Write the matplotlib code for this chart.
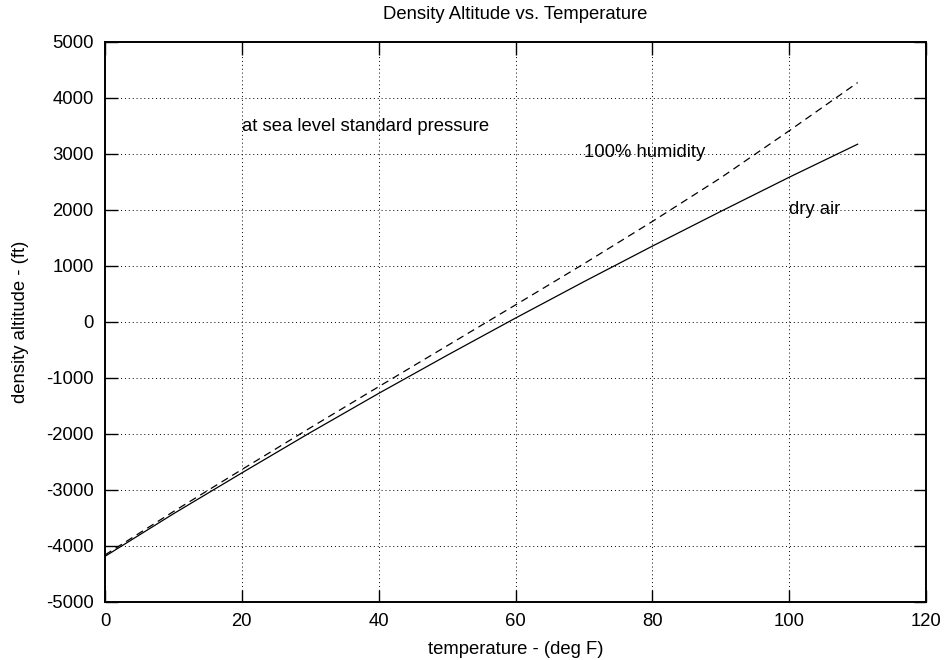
import matplotlib.pyplot as plt

# temperature (deg F) and density altitude (ft)
temp = [0, 10, 20, 30, 40, 50, 60, 70, 80, 90, 100, 110]
dry_air = [-4190, -3430, -2700, -1980, -1280, -600, 65, 715, 1350, 1970, 2580, 3170]
humid_air = [-4165, -3390, -2640, -1895, -1160, -430, 300, 1035, 1790, 2570, 3410, 4270]

plt.rcParams['font.family'] = ['Liberation Sans', 'DejaVu Sans']
plt.rcParams['axes.unicode_minus'] = False

fs = 13.3

fig = plt.figure(figsize=(9.44, 6.6), dpi=100)
ax = fig.add_axes([0.1112, 0.0883, 0.8698, 0.8485])

ax.plot(temp, dry_air, color='black', linewidth=0.9)
ax.plot(temp, humid_air, color='black', linewidth=0.9, linestyle=(0, (6, 4)))

ax.set_xlim(0, 120)
ax.set_ylim(-5000, 5000)
ax.set_xticks(range(0, 121, 20))
ax.set_yticks(range(-5000, 5001, 1000))

ax.grid(True, color='black', linestyle=(0, (1, 3)), linewidth=0.7)
ax.tick_params(direction='in', length=9, width=1, top=True, right=True,
               labelsize=fs, pad=8)
for s in ax.spines.values():
    s.set_linewidth(1.4)

ax.text(20, 3480, 'at sea level standard pressure', fontsize=fs, va='center', ha='left')
ax.text(70, 3030, '100% humidity', fontsize=fs, va='center', ha='left')
ax.text(100, 2000, 'dry air', fontsize=fs, va='center', ha='left')

ax.set_title('Density Altitude vs. Temperature', fontsize=fs, pad=16)
ax.set_xlabel('temperature - (deg F)', fontsize=fs, labelpad=8)
ax.set_ylabel('density altitude - (ft)', fontsize=fs, labelpad=12)

fig.savefig('out.png', dpi=100)
